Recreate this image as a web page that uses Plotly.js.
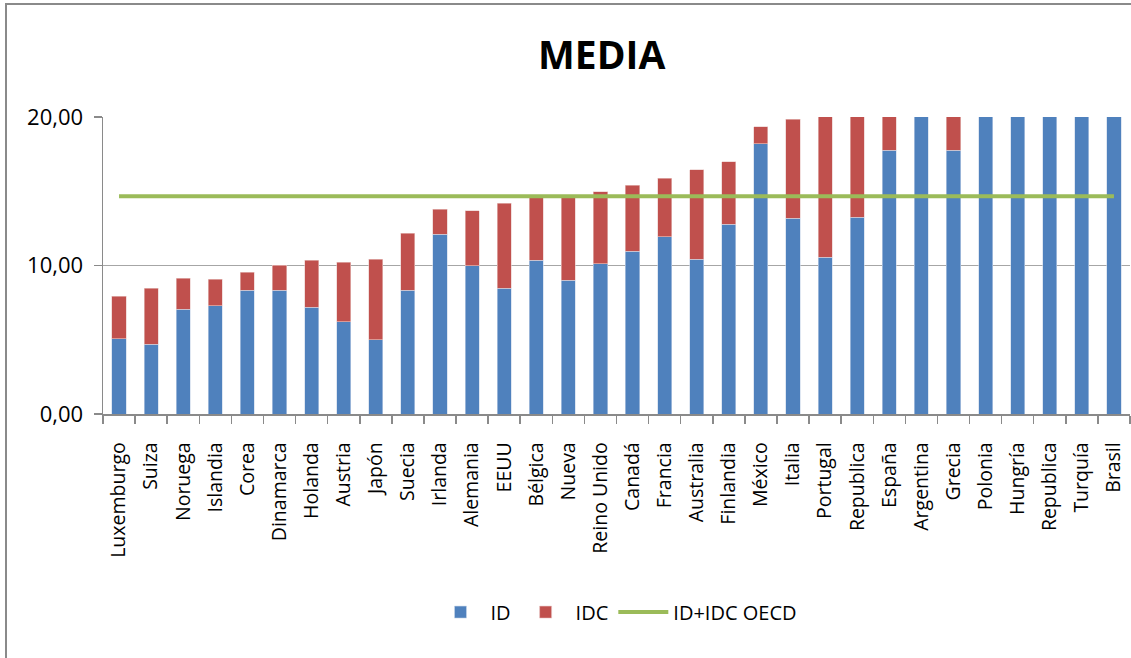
<!DOCTYPE html>
<html>
<head>
<meta charset="utf-8">
<script src="https://cdn.plot.ly/plotly-3.0.1.min.js"></script>
<style>
  html, body { margin: 0; padding: 0; overflow: hidden; background: #fff; }
  #chart { position: absolute; left: 0; top: 0; width: 1131px; height: 658px; }
  #frame { position: absolute; left: 5px; top: 3px; width: 3000px; height: 3000px;
           border-left: 2px solid #8a8a8a; border-top: 2px solid #8a8a8a; pointer-events: none; }
</style>
</head>
<body>
<div id="chart"></div>
<div id="frame"></div>
<script>
const categories = ["Luxemburgo","Suiza","Noruega","Islandia","Corea","Dinamarca","Holanda","Austria","Japón","Suecia",
  "Irlanda","Alemania","EEUU","Bélgica","Nueva","Reino Unido","Canadá","Francia","Australia","Finlandia",
  "México","Italia","Portugal","Republica","España","Argentina","Grecia","Polonia","Hungría","Republica",
  "Turquía","Brasil"];

const idValues = [5.06,4.70,7.05,7.28,8.33,8.33,7.19,6.22,5.01,8.33,
  12.10,9.99,8.47,10.37,9.00,10.12,10.95,11.94,10.42,12.79,
  18.21,13.17,10.57,13.24,17.76,21.5,17.76,23.0,24.0,25.0,
  28.0,30.0];

const idcValues = [2.87,3.77,2.09,1.79,1.21,1.68,3.16,3.99,5.41,3.83,
  1.68,3.69,5.73,4.19,5.56,4.84,4.46,3.92,6.04,4.21,
  1.12,6.68,10.5,7.5,3.0,3.0,4.0,3.0,3.0,3.0,
  3.0,3.0];

const oecdLevel = 14.67;

const yTickVals = [0, 10, 20];
const yTickText = ["0,00", "10,00", "20,00"];

const font = "'Open Sans', 'Liberation Sans', sans-serif";
const idx = categories.map((c, i) => i);
const bounds = categories.map((c, i) => i - 0.5).concat([categories.length - 0.5]);

const traces = [
  { type: "bar", name: "ID", x: idx, y: idValues, marker: { color: "#4F81BD", line: { color: "#c9d7ea", width: 0.6 } }, hoverinfo: "skip" },
  { type: "bar", name: "IDC", x: idx, y: idcValues, marker: { color: "#C0504D", line: { color: "#eac9c8", width: 0.6 } }, hoverinfo: "skip" },
  { type: "scatter", mode: "lines", name: "ID+IDC OECD", x: idx, y: idx.map(() => oecdLevel),
    line: { color: "#9BBB59", width: 4 }, hoverinfo: "skip", cliponaxis: false }
];

const layout = {
  width: 1131, height: 658,
  margin: { l: 103, r: 1, t: 117, b: 244 },
  paper_bgcolor: "rgba(0,0,0,0)", plot_bgcolor: "#fff",
  barmode: "stack", bargap: 0.56,
  font: { family: font, color: "#000" },
  title: { text: "<b>MEDIA</b>", font: { family: font, size: 39, color: "#000" },
           x: 0.532, xanchor: "center", xref: "container", y: 0.916, yanchor: "middle", yref: "container" },
  xaxis: {
    range: [-0.5, categories.length - 0.5],
    tickmode: "array", tickvals: idx, ticktext: categories,
    tickangle: -90, ticks: "", ticklabelstandoff: 19,
    tickfont: { family: font, size: 19.5, color: "#000" },
    showgrid: false, zeroline: false,
    showline: true, linecolor: "#8a8a8a", linewidth: 1.5,
    minor: { tickmode: "array", tickvals: bounds, ticks: "outside", ticklen: 8, tickcolor: "#8a8a8a", tickwidth: 1.5, showgrid: false },
    fixedrange: true
  },
  yaxis: {
    range: [0, 20],
    tickmode: "array", tickvals: yTickVals, ticktext: yTickText,
    ticks: "outside", ticklen: 8, tickcolor: "#8a8a8a", tickwidth: 1.5,
    tickfont: { family: font, size: 22, color: "#000" },
    showgrid: true, gridcolor: "#a6a6a6", gridwidth: 1.5,
    zeroline: false, showline: true, linecolor: "#8a8a8a", linewidth: 1.5,
    ticklabelstandoff: 6,
    fixedrange: true
  },
  showlegend: true,
  legend: { orientation: "h", x: 0.5, xanchor: "center", y: -0.667, yanchor: "middle",
            font: { family: font, size: 20, color: "#000" }, itemwidth: 50, traceorder: "normal" }
};

Plotly.newPlot("chart", traces, layout, { displayModeBar: false, staticPlot: true });
</script>
</body>
</html>
